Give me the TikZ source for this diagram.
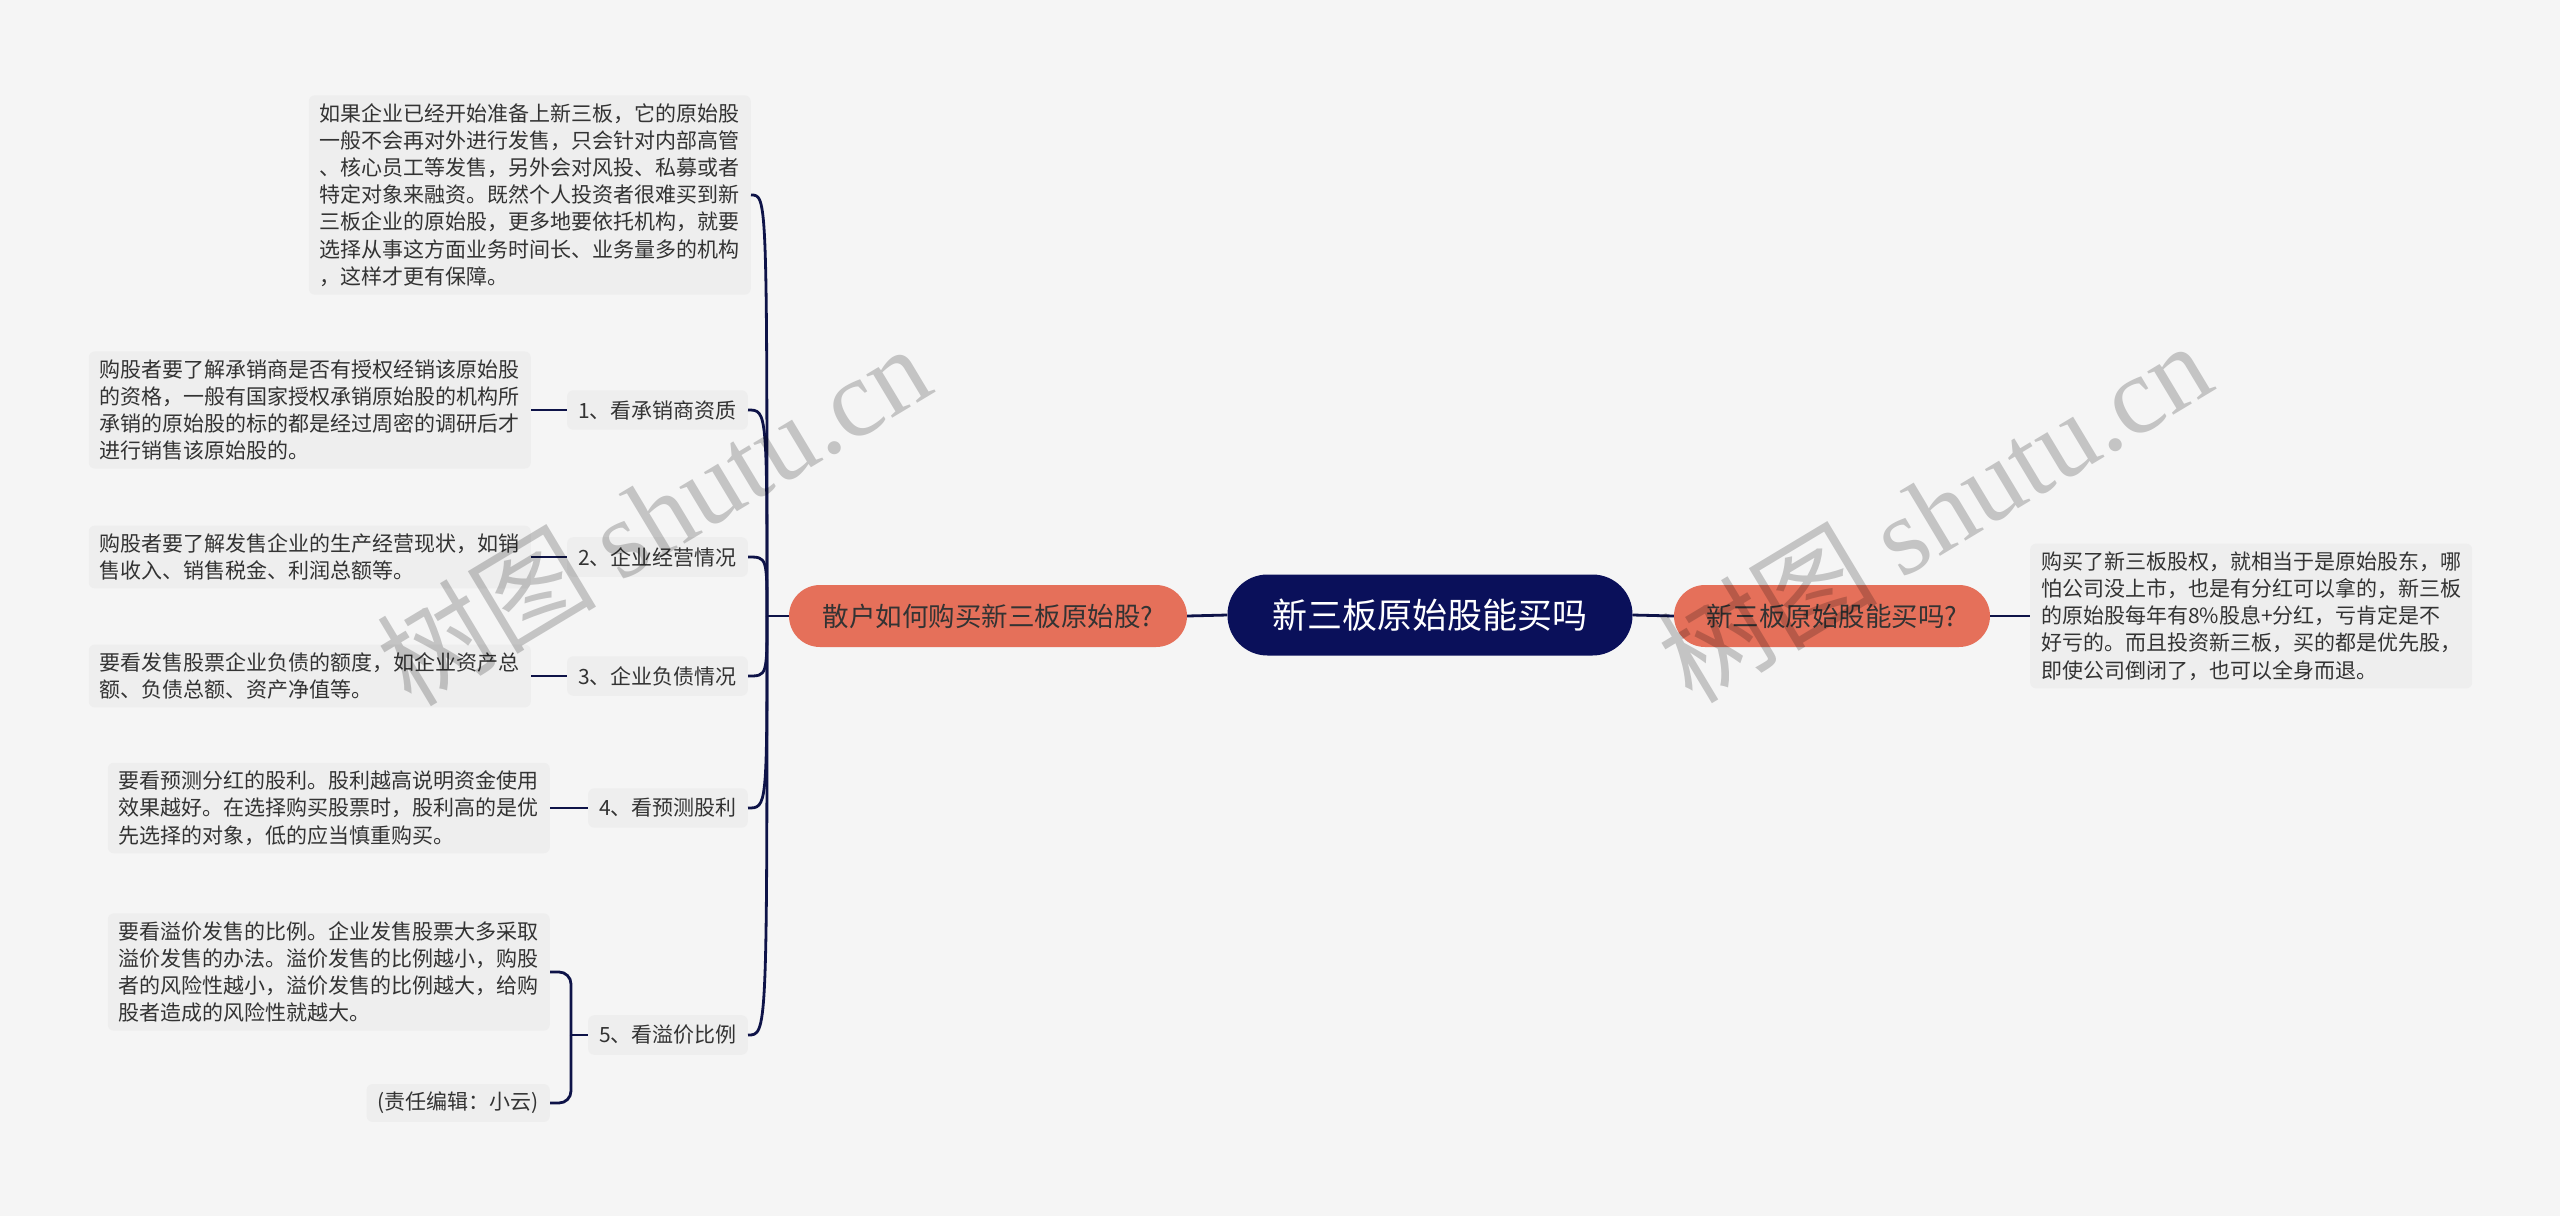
\documentclass[tikz,border=0pt]{standalone}
\usepackage{fontspec}
\setmainfont{Noto Sans CJK SC}
\newfontfamily\wmfont{Liberation Serif}
\usetikzlibrary{positioning}
\definecolor{bgc}{HTML}{F5F5F5}
\definecolor{leafc}{HTML}{EEEEEE}
\definecolor{rootc}{HTML}{0A105A}
\definecolor{mainc}{HTML}{E5705A}
\definecolor{linec}{HTML}{0E1348}
\definecolor{txtc}{HTML}{333333}
\begin{document}
\begin{tikzpicture}[x=1pt,y=-1pt,
  leaf/.style={fill=leafc,rounded corners=6pt,inner xsep=11pt,inner ysep=8pt,align=left,text=txtc,font=\fontsize{21}{27.2}\selectfont},
  sub/.style={fill=leafc,rounded corners=6pt,inner xsep=11pt,inner ysep=10pt,text=txtc,font=\fontsize{21}{25}\selectfont},
  mainbox/.style={fill=mainc,rounded corners=31pt,minimum height=62pt,inner xsep=20pt,text=txtc,font=\fontsize{26.5}{30}\selectfont},
  link/.style={draw=linec,line width=2.8pt},
  wmark/.style={rotate=31,text=black,opacity=0.2,font=\fontsize{110}{110}\selectfont}]
\fill[bgc] (0,0) rectangle (2560,1216);
\useasboundingbox (0,0) rectangle (2560,1216);
\node[fill=rootc,rounded corners=40pt,minimum width=405pt,minimum height=81pt,text=white,font=\fontsize{35}{40}\selectfont] (root) at (1430,615) {新三板原始股能买吗};
\node[mainbox,minimum width=398pt] (mainL) at (988,616) {散户如何购买新三板原始股?};
\node[mainbox,minimum width=316pt] (mainR) at (1832,616) {新三板原始股能买吗?};
\node[leaf,anchor=west] (rleaf) at (2030,616) {购买了新三板股权，就相当于是原始股东，哪\\怕公司没上市，也是有分红可以拿的，新三板\\的原始股每年有8\%股息+分红，亏肯定是不\\好亏的。而且投资新三板，买的都是优先股，\\即使公司倒闭了，也可以全身而退。};
\node[leaf,anchor=east] (leaf0) at (751,195) {如果企业已经开始准备上新三板，它的原始股\\一般不会再对外进行发售，只会针对内部高管\\、核心员工等发售，另外会对风投、私募或者\\特定对象来融资。既然个人投资者很难买到新\\三板企业的原始股，更多地要依托机构，就要\\选择从事这方面业务时间长、业务量多的机构\\，这样才更有保障。};
\node[sub,anchor=east] (sub1) at (748,410) {1、看承销商资质};
\node[sub,anchor=east] (sub2) at (748,557) {2、企业经营情况};
\node[sub,anchor=east] (sub3) at (748,676) {3、企业负债情况};
\node[sub,anchor=east] (sub4) at (748,808) {4、看预测股利};
\node[sub,anchor=east] (sub5) at (748,1035) {5、看溢价比例};
\node[leaf,anchor=east] (leaf1) at (531,410) {购股者要了解承销商是否有授权经销该原始股\\的资格，一般有国家授权承销原始股的机构所\\承销的原始股的标的都是经过周密的调研后才\\进行销售该原始股的。};
\node[leaf,anchor=east] (leaf2) at (531,557) {购股者要了解发售企业的生产经营现状，如销\\售收入、销售税金、利润总额等。};
\node[leaf,anchor=east] (leaf3) at (531,676) {要看发售股票企业负债的额度，如企业资产总\\额、负债总额、资产净值等。};
\node[leaf,anchor=east] (leaf4) at (550,808) {要看预测分红的股利。股利越高说明资金使用\\效果越好。在选择购买股票时，股利高的是优\\先选择的对象，低的应当慎重购买。};
\node[leaf,anchor=east] (leaf5) at (550,972) {要看溢价发售的比例。企业发售股票大多采取\\溢价发售的办法。溢价发售的比例越小，购股\\者的风险性越小，溢价发售的比例越大，给购\\股者造成的风险性就越大。};
\node[leaf,anchor=east] (note5) at (550,1103) {(责任编辑：小云)};
\coordinate (trunk) at (767,616);
\coordinate (fork5) at (571,1035);
\draw[link] (root.west) -- (mainL.east);
\draw[link] (root.east) -- (mainR.west);
\draw[link] (mainR.east) -- (rleaf.west);
\draw[link] (mainL.west) -- (trunk);
\foreach \n in {leaf0,sub1,sub2,sub3,sub4,sub5}
  \draw[link] (trunk) .. controls (trunk |- \n.east) .. (\n.east);
\foreach \n in {1,2,3,4}
  \draw[link] (leaf\n.east) -- (sub\n.west);
\draw[link] (sub5.west) -- (fork5);
\draw[link,rounded corners=12pt] (fork5) |- (leaf5.east);
\draw[link,rounded corners=12pt] (fork5) |- (note5.east);
\node[wmark] (wm1) at (653,514) {树图 {\wmfont shutu.cn}};
\node[wmark] (wm2) at (1934,511) {树图 {\wmfont shutu.cn}};
\end{tikzpicture}
\end{document}
